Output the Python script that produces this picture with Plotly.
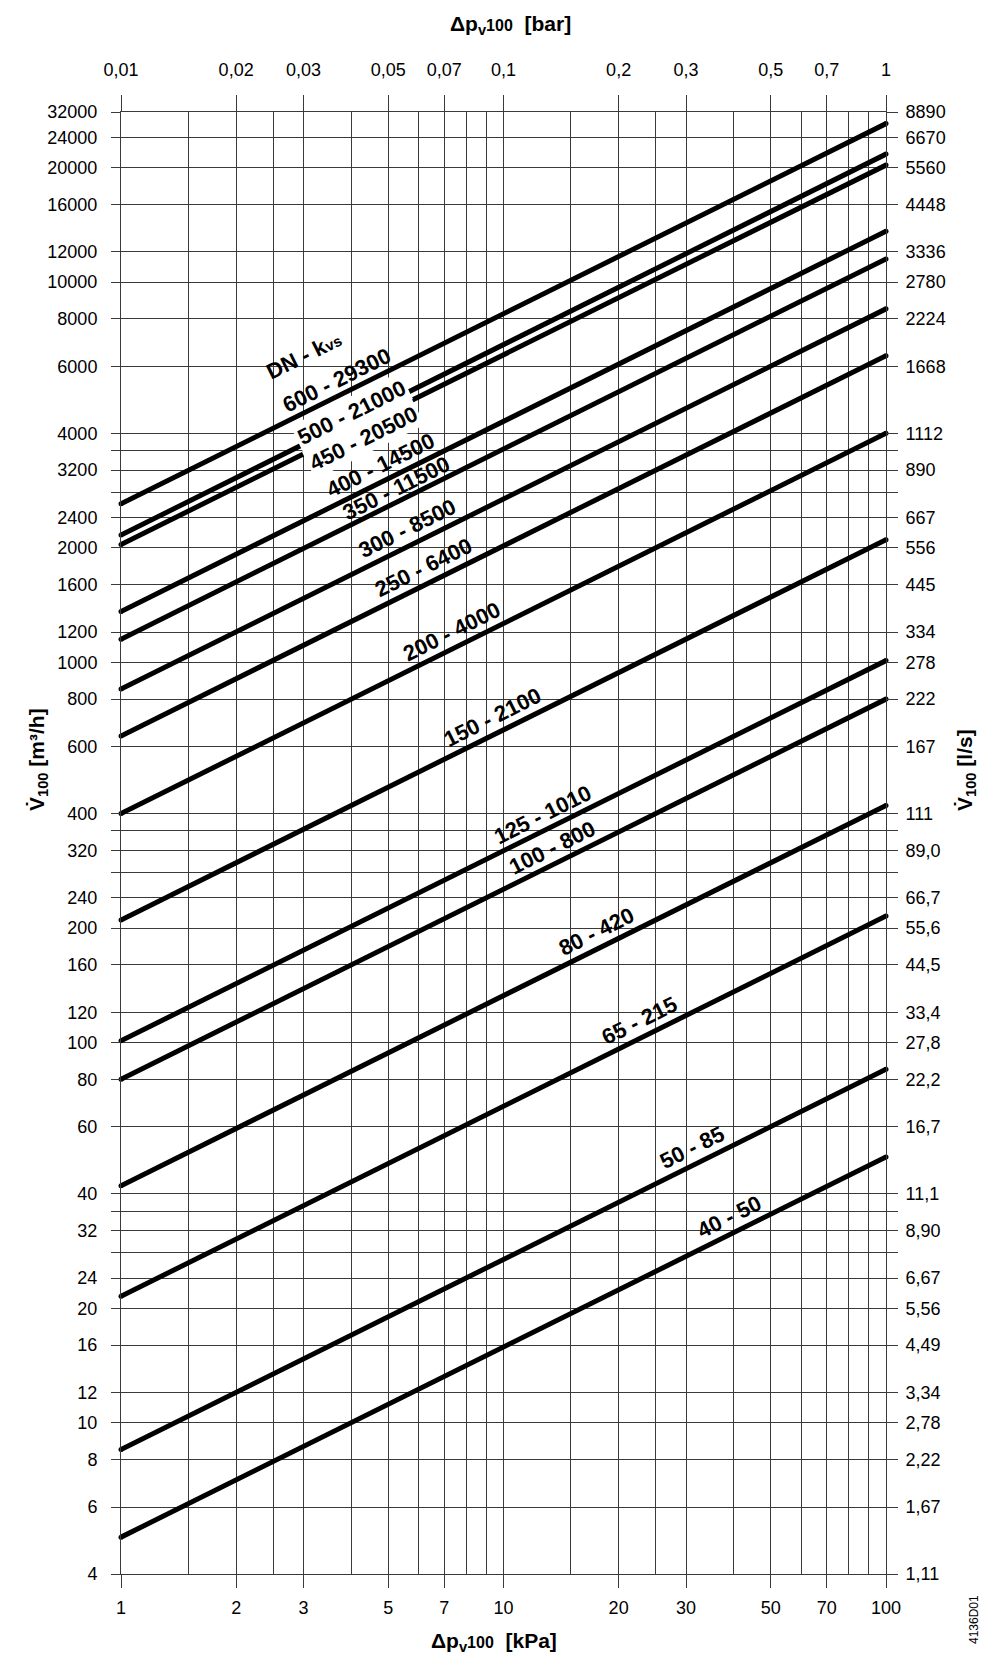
import math
import plotly.graph_objects as go

# ---------------- data ----------------
dn_kvs_labels = ["600 - 29300", "500 - 21000", "450 - 20500", "400 - 14500", "350 - 11500",
                 "300 - 8500", "250 - 6400", "200 - 4000", "150 - 2100", "125 - 1010",
                 "100 - 800", "80 - 420", "65 - 215", "50 - 85", "40 - 50"]
dp_kpa_ends = [1, 100]                      # kPa at the two ends of every line
flow_at_1kpa = [2610, 2160, 2040, 1360, 1150, 850, 640, 400, 210, 101, 80, 42, 21.5, 8.5, 5.0]
flow_at_100kpa = [26100, 21700, 20300, 13600, 11500, 8500, 6400, 4000, 2100, 1010, 800, 420, 215, 85, 50]

x_major = [1, 2, 3, 5, 7, 10, 20, 30, 50, 70, 100]
x_minor = [1.5, 2.5, 4, 6, 8, 9, 15, 25, 40, 60, 80, 90]
x_bottom_text = ["1", "2", "3", "5", "7", "10", "20", "30", "50", "70", "100"]
x_top_text = ["0,01", "0,02", "0,03", "0,05", "0,07", "0,1", "0,2", "0,3", "0,5", "0,7", "1"]

# horizontal grid lines as drawn in the reference (top line drawn at the 28000 level)
y_major = [28000, 24000, 20000, 16000, 12000, 10000, 8000, 6000, 4000, 3200, 2400, 2000,
           1600, 1200, 1000, 800, 600, 400, 320, 240, 200, 160, 120, 100, 80, 60, 40, 32,
           24, 20, 16, 12, 10, 8, 6, 4]
y_left_text = ["32000", "24000", "20000", "16000", "12000", "10000", "8000", "6000", "4000",
               "3200", "2400", "2000", "1600", "1200", "1000", "800", "600", "400", "320",
               "240", "200", "160", "120", "100", "80", "60", "40", "32", "24", "20", "16",
               "12", "10", "8", "6", "4"]
y_right_text = ["8890", "6670", "5560", "4448", "3336", "2780", "2224", "1668", "1112", "890",
                "667", "556", "445", "334", "278", "222", "167", "111", "89,0", "66,7", "55,6",
                "44,5", "33,4", "27,8", "22,2", "16,7", "11,1", "8,90", "6,67", "5,56", "4,49",
                "3,34", "2,78", "2,22", "1,67", "1,11"]
y_minor = [3600, 2800, 360, 280, 36, 28]

# label placement: line index, x (kPa) of the foot point on the line, offset (px, perpendicular)
label_texts = ["DN - k<span style='font-size:15px'>vs</span>"] + dn_kvs_labels
label_line = [0, 0, 1, 2, 3, 4, 5, 6, 7, 8, 9, 10, 11, 12, 13, 14]
label_x = [3.45, 3.80, 4.09, 4.16, 4.95, 5.41, 5.85, 6.45, 7.65, 9.75, 13.2, 14.0, 18.3, 23.7, 32.5, 40.8]
label_d = [51, 15, 7, -13, 15, 13, 16, 16, 16, 16, 15, 15, 16, 16, 16, 16]
label_inline = [False, False, True, True] + [False] * 12

# ---------------- geometry ----------------
W, H = 987, 1656
L, R, T, B = 113, 109, 104, 90
pw, ph = W - L - R, H - T - B
xr = [0, 2]
yr = [math.log10(4), math.log10(28000)]
px_dec_x = pw / (xr[1] - xr[0])
px_dec_y = ph / (yr[1] - yr[0])
ang = math.atan((px_dec_y / 2) / px_dec_x)
ang_deg = math.degrees(ang)
ux, uy = math.cos(ang), math.sin(ang)
nx, ny = -math.sin(ang), math.cos(ang)

GRID = "#3a3a3a"
FONT = "Arial, Liberation Sans, Helvetica, sans-serif"

fig = go.Figure()

for i, name in enumerate(dn_kvs_labels):
    fig.add_trace(go.Scatter(
        x=dp_kpa_ends, y=[flow_at_1kpa[i], flow_at_100kpa[i]], mode="lines+markers",
        line=dict(color="black", width=5), marker=dict(color="black", size=5),
        name=name, hoverinfo="skip", cliponaxis=False))

# helper trace so the top/right axes are drawn
fig.add_trace(go.Scatter(x=[1], y=[4], xaxis="x2", yaxis="y2", mode="markers",
                         marker=dict(opacity=0), hoverinfo="skip", showlegend=False))


def text_width(s, size):
    s = s.replace("<span style='font-size:15px'>", "").replace("</span>", "")
    w = 0
    for ch in s:
        if ch.isdigit():
            w += 0.556
        elif ch == " ":
            w += 0.278
        elif ch == "-":
            w += 0.333
        else:
            w += 0.68
    return w * size


shapes = []
annotations = []
LSIZE = 22
for t, li, xl, d, inl in zip(label_texts, label_line, label_x, label_d, label_inline):
    s, e = flow_at_1kpa[li], flow_at_100kpa[li]
    frac = (math.log10(xl) - math.log10(dp_kpa_ends[0])) / (math.log10(dp_kpa_ends[1]) - math.log10(dp_kpa_ends[0]))
    v = 10 ** (math.log10(s) + frac * (math.log10(e) - math.log10(s)))
    # white mask (hides grid lines around the label, drawn below the data lines)
    mw = text_width(t, LSIZE) + 56
    mh = 50
    cx, cy = d * nx, d * ny
    pts = []
    for a, b in [(-1, -1), (1, -1), (1, 1), (-1, 1)]:
        pts.append((cx + a * mw / 2 * ux + b * mh / 2 * nx, cy + a * mw / 2 * uy + b * mh / 2 * ny))
    path = "M " + " L ".join(f"{p[0]:.2f},{p[1]:.2f}" for p in pts) + " Z"
    xp = (math.log10(xl) - xr[0]) / (xr[1] - xr[0])
    yp = (math.log10(v) - yr[0]) / (yr[1] - yr[0])
    shapes.append(dict(type="path", xref="paper", yref="paper", xsizemode="pixel",
                       ysizemode="pixel", xanchor=xp, yanchor=yp, path=path,
                       fillcolor="white", line=dict(width=0), layer="between"))
    ann = dict(x=math.log10(xl), y=math.log10(v), xref="x", yref="y", showarrow=False,
               text=f"<b>{t}</b>", textangle=-ang_deg, xanchor="center", yanchor="middle",
               xshift=d * nx, yshift=d * ny, font=dict(family=FONT, size=LSIZE, color="black"))
    if inl:
        ann.update(bgcolor="white", borderpad=2)
    annotations.append(ann)


def paper(px, py):
    return (px - L) / pw, (H - B - py) / ph


for txt, (px, py), rot, size in [
    ("<b>Δp<sub>v</sub><span style='font-size:16px'>100</span>  [bar]</b>", (502, 17), 0, 21),
    ("<b>Δp<sub>v</sub><span style='font-size:16px'>100</span>  [kPa]</b>", (486, 1634), 0, 21),
    ("<b>V̇<sub>100</sub> [m³/h]</b>", (30, 752), -90, 21),
    ("<b>V̇<sub>100</sub> [l/s]</b>", (958, 762), -90, 21),
    ("4136D01", (966, 1612), -90, 12),
]:
    xp, yp = paper(px, py)
    annotations.append(dict(x=xp, y=yp, xref="paper", yref="paper", showarrow=False,
                            text=txt, textangle=rot, xanchor="center", yanchor="middle",
                            font=dict(family=FONT, size=size, color="black")))

tickfont = dict(family=FONT, size=18, color="black")
fig.update_layout(
    template="none",
    width=W, height=H, margin=dict(l=L, r=R, t=T, b=B, autoexpand=False),
    paper_bgcolor="white", plot_bgcolor="white", showlegend=False,
    font=dict(family=FONT, size=18, color="black"),
    xaxis=dict(type="log", range=xr, tickmode="array", tickvals=x_major, ticktext=x_bottom_text,
               ticks="outside", ticklen=13, tickwidth=1, tickcolor=GRID,
               showgrid=True, gridcolor=GRID, gridwidth=1, zeroline=False,
               showline=True, linecolor=GRID, linewidth=1, mirror=True,
               tickfont=tickfont, ticklabelstandoff=4, automargin=False,
               minor=dict(tickmode="array", tickvals=x_minor, showgrid=True,
                          gridcolor=GRID, gridwidth=1, ticks="")),
    xaxis2=dict(type="log", range=xr, overlaying="x", side="top", anchor="y",
                tickmode="array", tickvals=x_major, ticktext=x_top_text,
                ticks="outside", ticklen=16, tickwidth=1, tickcolor=GRID,
                showgrid=False, zeroline=False, showline=False, tickfont=tickfont,
                ticklabelstandoff=12, automargin=False),
    yaxis=dict(type="log", range=yr, tickmode="array", tickvals=y_major, ticktext=y_left_text,
               ticks="outside", ticklen=9, tickwidth=1, tickcolor=GRID,
               showgrid=True, gridcolor=GRID, gridwidth=1, zeroline=False,
               showline=True, linecolor=GRID, linewidth=1, mirror=True,
               tickfont=tickfont, ticklabelstandoff=10, automargin=False,
               minor=dict(tickmode="array", tickvals=y_minor, showgrid=True, gridcolor=GRID,
                          gridwidth=1, ticks="outside", ticklen=9, tickcolor=GRID)),
    yaxis2=dict(type="log", range=yr, overlaying="y", side="right", anchor="x",
                tickmode="array", tickvals=y_major, ticktext=y_right_text,
                ticks="outside", ticklen=11, tickwidth=1, tickcolor=GRID,
                showgrid=False, zeroline=False, showline=False, tickfont=tickfont,
                ticklabelstandoff=4, automargin=False,
                minor=dict(tickmode="array", tickvals=y_minor, showgrid=False,
                           ticks="outside", ticklen=11, tickcolor=GRID)),
    shapes=shapes,
    annotations=annotations,
)

fig.write_html("out.html")
